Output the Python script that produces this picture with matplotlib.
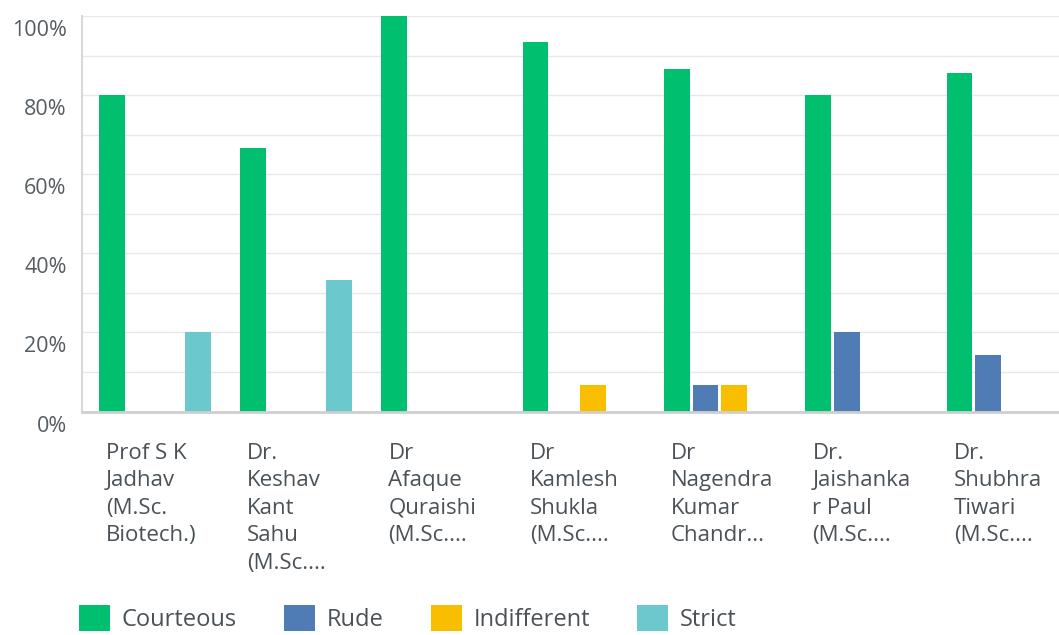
import numpy as np
import matplotlib

matplotlib.use("Agg")
import matplotlib.pyplot as plt
from matplotlib.patches import Patch
from matplotlib.transforms import ScaledTranslation

# data (percent of responses)
categories = [
    "Prof S K\nJadhav\n(M.Sc.\nBiotech.)",
    "Dr.\nKeshav\nKant\nSahu\n(M.Sc....",
    "Dr\nAfaque\nQuraishi\n(M.Sc....",
    "Dr\nKamlesh\nShukla\n(M.Sc....",
    "Dr\nNagendra\nKumar\nChandr...",
    "Dr.\nJaishanka\nr Paul\n(M.Sc....",
    "Dr.\nShubhra\nTiwari\n(M.Sc....",
]
series = ["Courteous", "Rude", "Indifferent", "Strict"]
courteous = [80.0, 66.67, 100.0, 93.33, 86.67, 80.0, 85.71]
rude = [0, 0, 0, 0, 6.67, 20.0, 14.29]
indifferent = [0, 0, 0, 6.67, 6.67, 0, 0]
strict = [20.0, 33.33, 0, 0, 0, 0, 0]
colors = ["#00BF6F", "#507CB6", "#F9BE00", "#6BC8CD"]

fig = plt.figure(figsize=(10.59, 6.35), dpi=100)
ax = fig.add_axes([82 / 1059, 1 - 411.5 / 635, 1 - 82 / 1059, (411.5 - 16) / 635])

x = np.arange(len(categories))
pitch, width = 0.203, 0.183
for i, (name, vals, c) in enumerate(zip(series, [courteous, rude, indifferent, strict], colors)):
    ax.bar(x + (i - 1.5) * pitch, vals, width, color=c, label=name, zorder=3)

ax.set_xlim(-0.514, 6.40)
ax.set_ylim(0, 100)
ax.set_yticks(range(0, 101, 20))
ax.set_yticklabels([f"{v}%" for v in range(0, 101, 20)])
ax.set_yticks(range(0, 101, 10), minor=True)
ax.grid(axis="y", which="both", color="#e8e8e8", lw=1, zorder=0)
ax.set_xticks([])
ax.tick_params(axis="y", which="both", length=0, pad=11, labelsize=15.5, labelcolor="#555d63")
for lab in ax.get_yticklabels():
    lab.set_fontfamily("Open Sans")
    lab.set_transform(lab.get_transform() + ScaledTranslation(0, -0.12, fig.dpi_scale_trans))

for s in ["top", "right"]:
    ax.spines[s].set_visible(False)
ax.spines["left"].set_color("#d9d9d9")
ax.spines["left"].set_linewidth(1.5)
ax.spines["bottom"].set_color("#cfcfcf")
ax.spines["bottom"].set_linewidth(2)
ax.spines["bottom"].set_zorder(4)

for xi, lab in zip(x, categories):
    ax.annotate(lab, xy=(xi - 0.345, 0), xycoords=("data", "axes fraction"),
                xytext=(0, -22.5), textcoords="offset points", ha="left", va="top",
                fontsize=16, family="Open Sans", color="#4a5258", linespacing=1.41)

handles = [Patch(facecolor=c, label=n) for n, c in zip(series, colors)]
fig.legend(handles=handles, loc="upper left", bbox_to_anchor=(79 / 1059, 1 - 605 / 635),
           ncol=4, frameon=False, borderpad=0, borderaxespad=0,
           handlelength=1.31, handleheight=1.31, handletextpad=0.5, columnspacing=2.0,
           prop={"family": "Open Sans", "size": 17})
for t in fig.legends[0].get_texts():
    t.set_color("#4a5258")

fig.savefig("out.png", dpi=100)
